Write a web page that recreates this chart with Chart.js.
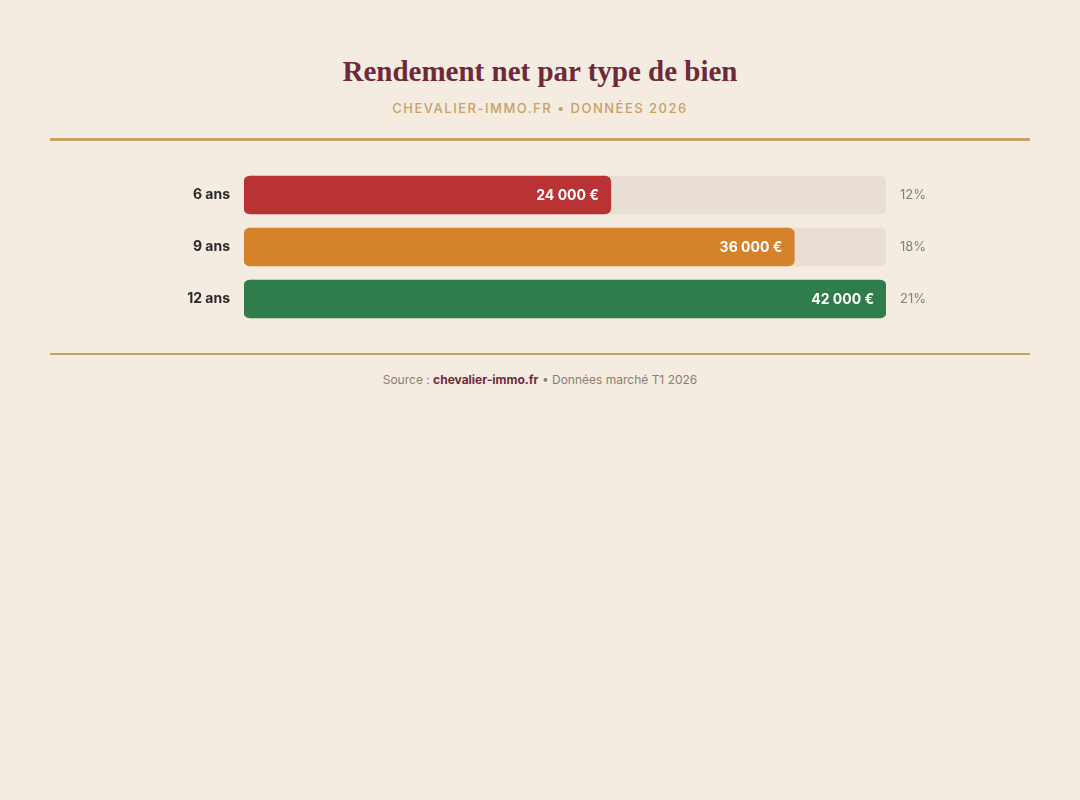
<!DOCTYPE html>
<html lang="fr">
<head>
<meta charset="utf-8">
<script src="https://cdn.jsdelivr.net/npm/chart.js@4"></script>
<style>
  html, body { margin: 0; padding: 0; background: #F4ECE1; }
  body { width: 1080px; height: 800px; position: relative; font-family: Inter, "Open Sans", sans-serif; }
  #title { position: absolute; top: 49px; left: 0; width: 1080px; text-align: center;
    font-family: "Liberation Serif", "DejaVu Serif", serif; font-weight: 700; font-size: 29px;
    color: #6E2A3A; line-height: 44px; }
  #subtitle { position: absolute; top: 99px; left: 0; width: 1080px; text-align: center;
    font-size: 13px; font-weight: 500; letter-spacing: 1.5px; color: #C9A063; line-height: 18px; }
  .rule { position: absolute; left: 50px; width: 980px; background: #C9A063; }
  #rule1 { top: 138px; height: 3px; }
  #rule2 { top: 353px; height: 2px; }
  #chartBox { position: absolute; left: 50px; top: 169px; width: 980px; height: 156px; }
  #footer { position: absolute; top: 372px; left: 0; width: 1080px; text-align: center;
    font-size: 12px; color: #8B7E71; line-height: 16px; }
  #footer b { color: #6E2A3A; font-weight: 700; }
</style>
</head>
<body>
<div id="title">Rendement net par type de bien</div>
<div id="subtitle">CHEVALIER-IMMO.FR • DONNÉES 2026</div>
<div class="rule" id="rule1"></div>
<div id="chartBox"><canvas id="c"></canvas></div>
<div class="rule" id="rule2"></div>
<div id="footer">Source : <b>chevalier-immo.fr</b> • Données marché T1 2026</div>
<script>
const categories = ["6 ans", "9 ans", "12 ans"];
const values = [24000, 36000, 42000];
const percentLabels = ["12%", "18%", "21%"];
const valueLabels = ["24 000 €", "36 000 €", "42 000 €"];
const barColors = ["#B93234", "#D4832B", "#2E7D4A"];
const trackMax = 42000;

const valueLabelPlugin = {
  id: 'valueLabels',
  afterDatasetsDraw(chart) {
    const ctx = chart.ctx;
    const meta = chart.getDatasetMeta(0);
    ctx.save();
    ctx.font = "700 14px Inter, 'Open Sans', sans-serif";
    ctx.fillStyle = "#FFFFFF";
    ctx.textAlign = "right";
    ctx.textBaseline = "middle";
    meta.data.forEach((bar, i) => {
      ctx.fillText(valueLabels[i], bar.x - 12, bar.y + 1);
    });
    ctx.restore();
  }
};

new Chart(document.getElementById('c'), {
  type: 'bar',
  data: {
    labels: categories,
    datasets: [
      {
        data: values,
        backgroundColor: barColors,
        borderRadius: 6,
        borderSkipped: false,
        barThickness: 38,
        grouped: false,
        yAxisID: 'y'
      },
      {
        data: categories.map(() => trackMax),
        backgroundColor: "#E8DED3",
        borderRadius: 6,
        borderSkipped: false,
        barThickness: 38,
        grouped: false,
        yAxisID: 'y'
      }
    ]
  },
  options: {
    indexAxis: 'y',
    responsive: true,
    maintainAspectRatio: false,
    animation: false,
    layout: { padding: 0 },
    plugins: { legend: { display: false }, tooltip: { enabled: false } },
    scales: {
      x: { display: false, min: 0, max: trackMax },
      y: {
        position: 'left',
        grid: { display: false, drawTicks: false },
        border: { display: false },
        ticks: { color: "#2B2B2B", padding: 14, font: { family: "Inter", size: 14, weight: '700' } },
        afterFit(s) { s.width = 194; s.paddingTop = 0; s.paddingBottom = 0; }
      },
      y2: {
        type: 'category',
        labels: percentLabels,
        position: 'right',
        grid: { display: false, drawTicks: false },
        border: { display: false },
        ticks: { color: "#8B7E71", padding: 14, font: { family: "Inter", size: 13 } },
        afterFit(s) { s.width = 144; s.paddingTop = 0; s.paddingBottom = 0; }
      }
    }
  },
  plugins: [valueLabelPlugin]
});
</script>
</body>
</html>
